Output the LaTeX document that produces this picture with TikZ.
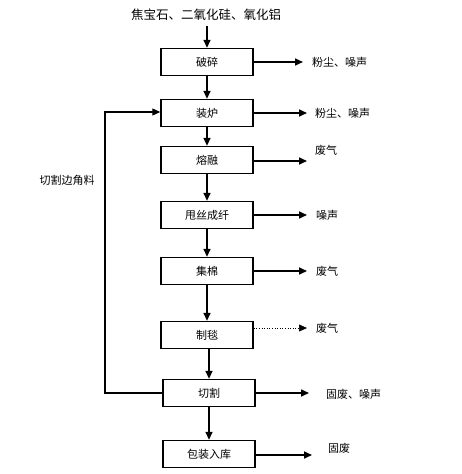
\documentclass[tikz,border=0pt]{standalone}
\usepackage{fontspec}
\setmainfont{Noto Sans CJK SC}
\usetikzlibrary{arrows.meta}
\begin{document}
\begin{tikzpicture}[x=1pt,y=-1pt,
  stepbox/.style={draw,line width=1.4pt,minimum width=92pt,minimum height=27pt,inner sep=0pt,font=\fontsize{11}{13}\selectfont},
  lbl/.style={anchor=west,inner sep=0pt,font=\fontsize{11}{13}\selectfont},
  flow/.style={line width=1.6pt,-{Triangle[length=8pt,width=7pt]}},
  thinflow/.style={line width=0.6pt,dotted,-{Triangle[length=8pt,width=7pt]}}]
\useasboundingbox (0,0) rectangle (461,474);
\node[inner sep=0pt,font=\fontsize{12.5}{14}\selectfont] (src) at (206,15) {焦宝石、二氧化硅、氧化铝};
\node[stepbox] (b1) at (207,62) {破碎};
\node[stepbox] (b2) at (207,113) {装炉};
\node[stepbox] (b3) at (207,160) {熔融};
\node[stepbox] (b4) at (207,215) {甩丝成纤};
\node[stepbox] (b5) at (207,271) {集棉};
\node[stepbox] (b6) at (207,335) {制毯};
\node[stepbox] (b7) at (209,393) {切割};
\node[stepbox] (b8) at (209,454) {包装入库};
% outputs
\coordinate (e1) at (303,62);
\coordinate (e2) at (307,113);
\coordinate (e3) at (307,161);
\coordinate (e4) at (307,215);
\coordinate (e5) at (307,271);
\coordinate (e6) at (307,328);
\coordinate (e7) at (309,393);
\coordinate (e8) at (312,455);
\node[lbl] (l1) at (312,62) {粉尘、噪声};
\node[lbl] (l2) at (315,113) {粉尘、噪声};
\node[lbl] (l3) at (315,150) {废气};
\node[lbl] (l4) at (316,215) {噪声};
\node[lbl] (l5) at (316,271) {废气};
\node[lbl] (l6) at (316,328) {废气};
\node[lbl] (l7) at (326,394) {固废、噪声};
\node[lbl] (l8) at (328,448) {固废};
\draw[flow] (src.south -| b1.north) ++(0,5) -- (b1.north);
\foreach \a/\b in {b1/b2,b2/b3,b3/b4,b4/b5,b5/b6} \draw[flow] (\a.south) -- (\b.north);
\draw[flow] (b6.south -| b7.north) -- (b7.north);
\draw[flow] (b7.south) -- (b8.north);
\draw[flow] (b1.east) -- (e1);
\draw[flow] (b2.east) -- (e2);
\draw[flow] (b3.east |- e3) -- (e3);
\draw[flow] (b4.east) -- (e4);
\draw[flow] (b5.east) -- (e5);
\draw[thinflow] (b6.east |- e6) -- (e6);
\draw[flow] (b7.east) -- (e7);
\draw[flow] (b8.east |- e8) -- (e8);
% feedback
\coordinate (fb) at (105,393);
\coordinate (ft) at (105,112);
\draw[flow,line width=1.1pt] (b7.west) -- (fb) -- (ft) -- (b2.west |- ft);
\node[inner sep=0pt,font=\fontsize{11}{13}\selectfont] (fl) at (67,180) {切割边角料};
\end{tikzpicture}
\end{document}
